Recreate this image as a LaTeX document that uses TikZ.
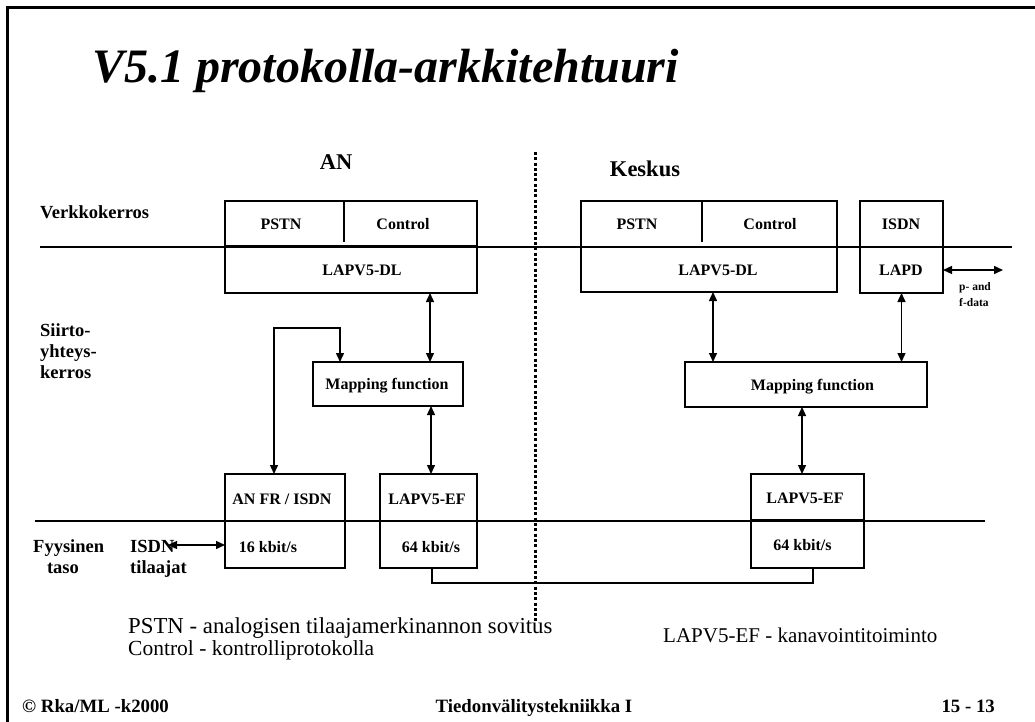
\documentclass[tikz,border=0pt]{standalone}
\usepackage{fontspec}
\setmainfont{Liberation Serif}
\usetikzlibrary{arrows.meta}
\tikzset{
  box/.style={draw, line width=2.5pt, inner sep=0pt, outer sep=0pt},
  lbl/.style={font=\bfseries\fontsize{16}{18}\selectfont, anchor=base, inner sep=0pt},
  side/.style={font=\bfseries\fontsize{18.5}{21}\selectfont, anchor=base west, inner sep=0pt},
  head/.style={font=\bfseries\fontsize{22.5}{26}\selectfont, anchor=base, inner sep=0pt},
  note/.style={font=\fontsize{22.8}{26}\selectfont, anchor=base west, inner sep=0pt},
  foot/.style={font=\bfseries\fontsize{18.8}{22}\selectfont, inner sep=0pt},
  tiny/.style={font=\bfseries\fontsize{11.5}{13}\selectfont, anchor=base west, inner sep=0pt},
  arr/.style={line width=1.4pt, {Triangle[length=9pt,width=8pt]}-{Triangle[length=9pt,width=8pt]}},
  layer/.style={line width=1.3pt},
  thinline/.style={line width=1.2pt},
  frame/.style={line width=3pt},
  divider/.style={line width=1.3pt},
  sep/.style={line width=3pt, dash pattern=on 3pt off 2.3pt}
}
\begin{document}
\begin{tikzpicture}[x=1pt,y=-1pt]
\useasboundingbox (0,0) rectangle (1035,722);

% frame
\draw[frame] (6,8) -- (1035,8);
\draw[frame] (7,8) -- (7,722);

% title
\node[font=\bfseries\itshape\fontsize{48}{56}\selectfont, anchor=base west, inner sep=0pt] (title) at (92,83) {V5.1 protokolla-arkkitehtuuri};

% layer lines
\draw[layer] (40,247) -- (1012,247);
\draw[layer] (35,521) -- (985,521);

% separator
\draw[sep] (535,152) -- (535,621);

% headings
\node[head] (hAN) at (336,170) {AN};
\node[head] (hK) at (645,177) {Keskus};

% side labels
\node[side] (verk) at (40,218) {Verkkokerros};
\node[side] (siirto) at (40,336) {Siirto-};
\node[side] (yht) at (40,357) {yhteys-};
\node[side] (kerr) at (40,378) {kerros};
\node[side] (fyys) at (33,552) {Fyysinen};
\node[side, anchor=base] (taso) at (63,573) {taso};
\node[side] (isdnS) at (130,552) {ISDN};
\node[side] (tilaajat) at (130,573) {tilaajat};

% AN side boxes
\node[box, minimum width=252pt, minimum height=45pt] (topA) at (351,223.5) {};
\node[box, minimum width=252pt, minimum height=47pt] (dlA) at (351,269.5) {};
\draw[divider] ([xshift=-7]topA.north) -- ++(0,41);
\node[lbl] (pstnA) at (281,229.5) {PSTN};
\node[lbl] (ctrlA) at (403,229.5) {Control};
\node[lbl] (dlAt) at (362,275.5) {LAPV5-DL};

\node[box, minimum width=150pt, minimum height=44pt] (mapA) at (388,384) {};
\node[lbl] (mapAt) at (387,389.5) {Mapping function};

\node[box, minimum width=120pt, minimum height=47pt] (anfrT) at (285,497.5) {};
\node[box, minimum width=120pt, minimum height=47pt] (anfrB) at (285,544.5) {};
\node[lbl] (anfrTt) at (282,504.5) {AN FR / ISDN};
\node[lbl] (anfrBt) at (268,552.5) {16 kbit/s};

\node[box, minimum width=97pt, minimum height=47pt] (efA) at (428.5,497.5) {};
\node[box, minimum width=97pt, minimum height=47pt] (efAb) at (428.5,544.5) {};
\node[lbl] (efAt) at (427,504.5) {LAPV5-EF};
\node[lbl] (efAbt) at (431,552.5) {64 kbit/s};

% Keskus side boxes
\node[box, minimum width=256pt, minimum height=46pt] (topK) at (709,224) {};
\node[box, minimum width=256pt, minimum height=45pt] (dlK) at (709,269.5) {};
\draw[divider] ([xshift=-7]topK.north) -- ++(0,41);
\node[lbl] (pstnK) at (637,229.5) {PSTN};
\node[lbl] (ctrlK) at (770,229.5) {Control};
\node[lbl] (dlKt) at (718,275.5) {LAPV5-DL};

\node[box, minimum width=83pt, minimum height=46pt] (isdnT) at (901.5,224) {};
\node[box, minimum width=83pt, minimum height=46pt] (lapd) at (901.5,270) {};
\node[lbl] (isdnTt) at (901,229.5) {ISDN};
\node[lbl] (lapdt) at (901,275.5) {LAPD};

\node[box, minimum width=242pt, minimum height=45pt] (mapK) at (806,384.5) {};
\node[lbl] (mapKt) at (812.5,390.5) {Mapping function};

\node[box, minimum width=113pt, minimum height=46pt] (efK) at (807.5,497) {};
\node[box, minimum width=113pt, minimum height=48pt] (efKb) at (807.5,544) {};
\node[lbl] (efKt) at (805,503.5) {LAPV5-EF};
\node[lbl] (efKbt) at (802.5,550.5) {64 kbit/s};

% p- and f-data
\node[tiny] (pand) at (959,290) {p- and};
\node[tiny] (fdata) at (959,306) {f-data};

% connectors AN
\draw[arr] ([xshift=79]dlA.south) -- ([xshift=79]dlA.south |- mapA.north);
\draw[arr] ([xshift=43]mapA.south) -- ([xshift=43]mapA.south |- efA.north);
\coordinate (fbc) at (340,328);
\draw[arr] ([xshift=-11]anfrT.north) |- (fbc) -- (fbc |- mapA.north);
\coordinate (isdnEnd) at (168,545);
\draw[arr] (isdnEnd) -- (isdnEnd -| anfrB.west);

% connectors Keskus
\draw[arr] ([xshift=4]dlK.south) -- ([xshift=4]dlK.south |- mapK.north);
\draw[arr] (lapd.south) -- (lapd.south |- mapK.north);
\draw[arr] ([xshift=-4]mapK.south) -- ([xshift=-4]mapK.south |- efK.north);
\coordinate (pf) at (1003,270);
\draw[arr] (lapd.east) -- (pf);

% 64 kbit/s link
\coordinate (bus) at (432,583);
\draw[thinline] ([xshift=3.5]efAb.south) -- (bus) -| ([xshift=5.5]efKb.south);

% notes
\node[note] (n1) at (128,633) {PSTN - analogisen tilaajamerkinannon sovitus};
\node[note, font=\fontsize{21.5}{26}\selectfont] (n2) at (128,655) {Control - kontrolliprotokolla};
\node[note, font=\fontsize{21}{26}\selectfont] (n3) at (663,642) {LAPV5-EF - kanavointitoiminto};

% footer
\node[foot, anchor=base west] (f1) at (22,712) {© Rka/ML -k2000};
\node[foot, anchor=base] (f2) at (534,712) {Tiedonvälitystekniikka I};
\node[foot, anchor=base east] (f3) at (995,712) {15 - 13};
\end{tikzpicture}
\end{document}
